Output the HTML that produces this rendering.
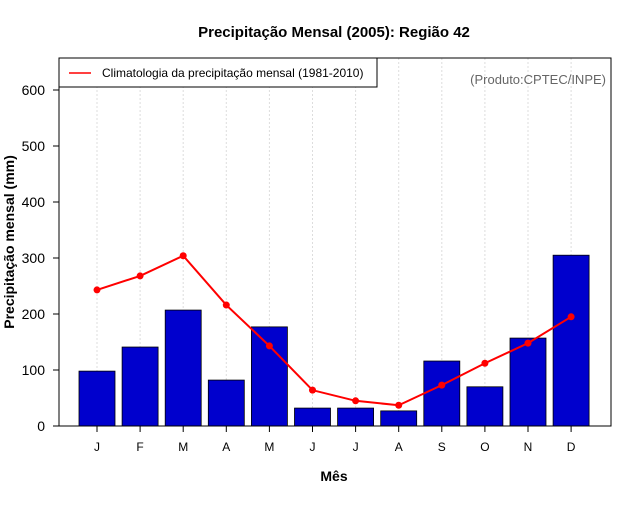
<!DOCTYPE html>
<html><head><meta charset="utf-8"><style>
body{margin:0;background:#fff}
svg text{font-family:"Liberation Sans",sans-serif}
</style></head><body>
<svg id="chart" width="640" height="500" xmlns="http://www.w3.org/2000/svg">
<rect width="640" height="500" fill="#fff"/>
<text x="334" y="37" text-anchor="middle" font-size="15" font-weight="bold">Precipitação Mensal (2005): Região 42</text>
<g id="grid"></g><g id="bars"></g><g id="line"></g><g id="axes"></g>
<rect x="59" y="58" width="552" height="368" fill="none" stroke="#000" stroke-width="1"/>
<g>
<rect x="59" y="58" width="318" height="29" fill="#fff" stroke="#000"/>
<line x1="69" y1="73" x2="91" y2="73" stroke="red" stroke-width="1.5"/>
<text x="102" y="77" font-size="12">Climatologia da precipitação mensal (1981-2010)</text>
</g>
<text x="606" y="84" text-anchor="end" font-size="13" fill="#666">(Produto:CPTEC/INPE)</text>
<text x="334" y="481" text-anchor="middle" font-size="14" font-weight="bold">Mês</text>
<text transform="translate(14,242) rotate(-90)" text-anchor="middle" font-size="14" font-weight="bold">Precipitação mensal (mm)</text>
</svg>
<script>
const months=["J","F","M","A","M","J","J","A","S","O","N","D"];
const observed=[98,141,207,82,177,32,32,27,116,70,157,305];
const climatology=[243,268,304,216,143,64,45,37,73,112,148,195];
const yTicks=[0,100,200,300,400,500,600];
const NS="http://www.w3.org/2000/svg";
const x=i=>97+i*43.1;
const y=v=>426-v*0.56;
function mk(t,a,p){const e=document.createElementNS(NS,t);for(const k in a)e.setAttribute(k,a[k]);p.appendChild(e);return e;}
const grid=document.getElementById('grid'),bars=document.getElementById('bars'),line=document.getElementById('line'),axes=document.getElementById('axes');
months.forEach((m,i)=>{
 const g=mk('line',{x1:x(i),x2:x(i),y1:58,y2:426,stroke:'#ddd','stroke-dasharray':'2,2'},grid);
 
 
 const b=mk('rect',{x:x(i)-18,y:y(observed[i]),width:36,height:426-y(observed[i]),fill:'#0000cd',stroke:'#000','stroke-width':0.8},bars);
 
 
 const tk=mk('line',{x1:x(i),x2:x(i),y1:426,y2:432,stroke:'#000'},axes);
 
 
 const t=mk('text',{x:x(i),y:451,'text-anchor':'middle','font-size':12},axes);t.textContent=m;
 
 
});
const pl=mk('polyline',{points:climatology.map((v,i)=>x(i)+','+y(v)).join(' '),fill:'none',stroke:'red','stroke-width':2},line);


climatology.forEach((v,i)=>{const c=mk('circle',{cx:x(i),cy:y(v),r:3.5,fill:'red'},line);
 
 });
yTicks.forEach(v=>{
 const tk=mk('line',{x1:53,x2:59,y1:y(v),y2:y(v),stroke:'#000'},axes);
 
 
 const t=mk('text',{x:45,y:y(v)+5,'text-anchor':'end','font-size':14},axes);t.textContent=v;
 
 
});
</script>
</body></html>
